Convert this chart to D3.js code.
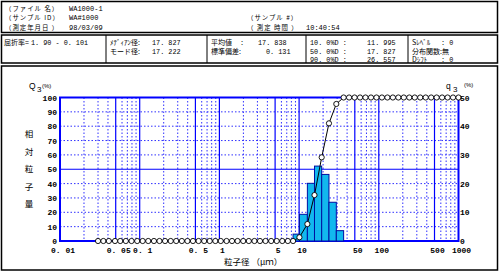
<!DOCTYPE html>
<html>
<head>
<meta charset="utf-8">
<script src="https://cdn.jsdelivr.net/npm/d3@7"></script>
<style>
body { margin: 0; background: #fff; }
text { fill: #000; }
.jp { font-family: "Noto Sans CJK JP", sans-serif; }
.num { font-family: "Liberation Mono", monospace; }
.tick text { font-family: "Liberation Mono", monospace; font-weight: bold; font-size: 8px; }
</style>
</head>
<body>
<div id="chart"></div>
<script>
// channel sizes (um) where the cumulative points sit
var sizeUm = [0.030, 0.035, 0.041, 0.049, 0.057, 0.067, 0.079, 0.093, 0.109, 0.128,
  0.151, 0.177, 0.208, 0.245, 0.287, 0.338, 0.397, 0.466, 0.548, 0.644,
  0.756, 0.889, 1.04, 1.23, 1.44, 1.69, 1.99, 2.34, 2.75, 3.23,
  3.79, 4.46, 5.24, 6.15, 7.23, 8.40, 10.1, 12.7, 15.6, 19.2,
  23.7, 29.3, 36.2, 42.4, 49.7, 58.2, 68.1, 79.8, 93.5, 109.5,
  128.2, 150.2, 175.9, 206.0, 241.3, 282.6, 331.0, 387.6, 454.0, 531.7,
  622.7, 729.4, 854.2, 1000];
// cumulative Q3 (%)
var cumQ3 = [0, 0, 0, 0, 0, 0, 0, 0, 0, 0,
  0, 0, 0, 0, 0, 0, 0, 0, 0, 0,
  0, 0, 0, 0, 0, 0, 0, 0, 0, 0,
  0, 0, 0, 0, 0, 0, 2.6, 11.8, 32.0, 58.3,
  82.0, 95.5, 100, 100, 100, 100, 100, 100, 100, 100,
  100, 100, 100, 100, 100, 100, 100, 100, 100, 100,
  100, 100, 100, 100];
// histogram q3 (%) between binEdges
var binEdges = [8.40, 10.1, 12.7, 15.6, 19.2, 23.7, 29.3, 36.2];
var q3 = [2.4, 9.3, 20.1, 26.1, 23.2, 13.5, 3.6];

var xTicks = [0.01, 0.05, 0.1, 0.5, 1, 5, 10, 50, 100, 500, 1000];
var xTickLabels = ["0. 01", "0. 05", "0. 1", "0. 5", "1", "5", "10", "50", "100", "500", "1000"];
var majorGrid = [0.05, 0.1, 0.5, 1, 5, 10, 50, 100, 500];
var minorGrid = [0.02, 0.03, 0.04, 0.06, 0.07, 0.08, 0.09, 0.2, 0.3, 0.4, 0.6, 0.7, 0.8, 0.9,
  2, 3, 4, 6, 7, 8, 9, 20, 30, 40, 60, 70, 80, 90, 200, 300, 400, 600, 700, 800, 900];
var leftTicks = [0, 10, 20, 30, 40, 50, 60, 70, 80, 90, 100];
var rightTicks = [0, 10, 20, 30, 40, 50];

var header1 = [["（ファイル 名）", "WA1000-1"], ["（サンプル ID）", "WA#1000"], ["（測定年月日 ）", "98/03/09"]];

var W = 500, H = 273;
var svg = d3.select("#chart").append("svg").attr("width", W).attr("height", H);
svg.append("rect").attr("width", W).attr("height", H).attr("fill", "#fff");

// header boxes
svg.append("rect").attr("x", 1.5).attr("y", 1.5).attr("width", 496).attr("height", 31)
  .attr("fill", "none").attr("stroke", "#000").attr("stroke-width", 1.5);
svg.append("rect").attr("x", 1.5).attr("y", 35).attr("width", 496).attr("height", 28)
  .attr("fill", "none").attr("stroke", "#000").attr("stroke-width", 1.5);
[106, 207, 306, 408].forEach(function(d) {
  svg.append("line").attr("x1", d).attr("x2", d).attr("y1", 35).attr("y2", 63)
    .attr("stroke", "#000").attr("stroke-width", 1);
});
svg.append("rect").attr("x", 1.5).attr("y", 66).attr("width", 496).attr("height", 204)
  .attr("fill", "none").attr("stroke", "#000").attr("stroke-width", 1.5);

header1.forEach(function(r, i) {
  svg.append("text").attr("class", "jp").attr("x", 5).attr("y", 11 + i * 9.3)
    .attr("font-size", 6.4).attr("letter-spacing", 1).text(r[0]);
  svg.append("text").attr("class", "num").attr("x", 69).attr("y", 11 + i * 9.3)
    .attr("font-size", 7).text(r[1]);
});
svg.append("text").attr("class", "jp").attr("x", 247).attr("y", 20.3).attr("font-size", 6.4)
  .attr("letter-spacing", 1).text("（サンプル #）");
svg.append("text").attr("class", "jp").attr("x", 247).attr("y", 29.6).attr("font-size", 6.4)
  .attr("letter-spacing", 1).text("（ 測定 時間 ）");
svg.append("text").attr("class", "num").attr("x", 306).attr("y", 29.6).attr("font-size", 7).text("10:40:54");

var infoJp = [
  [4, 45, "屈折率="], [110, 45, "ﾒﾃﾞｨｱﾝ径:"], [110, 53.5, "モード径:"],
  [211, 45, "平均値"], [211, 53.5, "標準偏差:"],
  [412, 45, "Sﾚﾍﾞﾙ"], [412, 53.5, "分布関数:無"], [412, 62, "Dｼﾌﾄ"]
];
var infoNum = [
  [31, 45, "1. 90 - 0. 10i"], [152, 45, "17. 827"], [152, 53.5, "17. 222"],
  [240, 45, ":"], [258, 45, "17. 838"], [266, 53.5, "0. 131"],
  [310, 45, "10. 0%D :"], [367, 45, "11. 995"],
  [310, 53.5, "50. 0%D :"], [367, 53.5, "17. 827"],
  [310, 62, "90. 0%D :"], [367, 62, "26. 557"],
  [441, 45, ": 0"], [441, 62, ": 0"]
];
infoJp.forEach(function(t) {
  svg.append("text").attr("class", "jp").attr("x", t[0]).attr("y", t[1])
    .attr("font-size", 7).text(t[2]);
});
infoNum.forEach(function(t) {
  svg.append("text").attr("class", "num").attr("x", t[0]).attr("y", t[1])
    .attr("font-size", 6.8).text(t[2]);
});

// plot
var x = d3.scaleLog().domain([0.01, 1000]).range([60, 458.5]);
var yL = d3.scaleLinear().domain([0, 100]).range([241, 97.5]);
var yR = d3.scaleLinear().domain([0, 50]).range([241, 97.5]);

var grid = svg.append("g");
grid.selectAll(".vmin").data(minorGrid).enter().append("line")
  .attr("x1", d => x(d)).attr("x2", d => x(d)).attr("y1", yL(100)).attr("y2", yL(0))
  .attr("stroke", "#3030ff").attr("stroke-width", 1).attr("stroke-dasharray", "1.5,2");
grid.selectAll(".hmin").data([10, 20, 30, 40, 60, 70, 80, 90]).enter().append("line")
  .attr("x1", x(0.01)).attr("x2", x(1000)).attr("y1", d => yL(d)).attr("y2", d => yL(d))
  .attr("stroke", "#3030ff").attr("stroke-width", 1).attr("stroke-dasharray", "1.5,2");
grid.selectAll(".vmaj").data(majorGrid).enter().append("line")
  .attr("x1", d => x(d)).attr("x2", d => x(d)).attr("y1", yL(100)).attr("y2", yL(0))
  .attr("stroke", "#0000ff").attr("stroke-width", 1.2);
grid.append("line").attr("x1", x(0.01)).attr("x2", x(1000)).attr("y1", yL(50)).attr("y2", yL(50))
  .attr("stroke", "#0000ff").attr("stroke-width", 1.2);
svg.append("rect").attr("x", x(0.01)).attr("y", yL(100))
  .attr("width", x(1000) - x(0.01)).attr("height", yL(0) - yL(100))
  .attr("fill", "none").attr("stroke", "#0000ff").attr("stroke-width", 2);

// histogram bars
svg.selectAll(".bar").data(q3).enter().append("rect")
  .attr("x", (d, i) => x(binEdges[i]))
  .attr("width", (d, i) => x(binEdges[i + 1]) - x(binEdges[i]))
  .attr("y", d => yR(d)).attr("height", d => yR(0) - yR(d))
  .attr("fill", "#12b8ee").attr("stroke", "#0010a0").attr("stroke-width", 1);

// cumulative curve
var pts = sizeUm.map((d, i) => [d, cumQ3[i]]);
var line = d3.line().x(d => x(d[0])).y(d => yL(d[1]));
svg.append("path").datum(pts).attr("d", line).attr("fill", "none")
  .attr("stroke", "#000").attr("stroke-width", 1);
svg.selectAll(".pt").data(pts).enter().append("circle")
  .attr("cx", d => x(d[0])).attr("cy", d => yL(d[1])).attr("r", 2.6)
  .attr("fill", "#fff").attr("stroke", "#000").attr("stroke-width", 0.9);

// axes labels
svg.append("g").attr("transform", "translate(2.5,244)")
  .call(d3.axisBottom(x).tickValues(xTicks).tickFormat((d, i) => xTickLabels[i]).tickSize(0))
  .call(g => g.select(".domain").remove());
svg.append("g").attr("transform", "translate(57,0)")
  .call(d3.axisLeft(yL).tickValues(leftTicks).tickSize(0).tickPadding(0))
  .call(g => g.select(".domain").remove());
svg.append("g").attr("transform", "translate(460,0)")
  .call(d3.axisRight(yR).tickValues(rightTicks).tickSize(0).tickPadding(0))
  .call(g => g.select(".domain").remove());

svg.append("text").attr("x", 29).attr("y", 89).attr("font-family", "Liberation Sans")
  .attr("font-size", 8.5).text("Q");
svg.append("text").attr("x", 37).attr("y", 92).attr("font-family", "Liberation Sans")
  .attr("font-size", 8).text("3");
svg.append("text").attr("x", 42).attr("y", 88).attr("font-family", "Liberation Sans")
  .attr("font-size", 6).text("(%)");
svg.append("text").attr("x", 446).attr("y", 89).attr("font-family", "Liberation Sans")
  .attr("font-size", 8.5).text("q");
svg.append("text").attr("x", 453).attr("y", 92).attr("font-family", "Liberation Sans")
  .attr("font-size", 8).text("3");
svg.append("text").attr("x", 464).attr("y", 87).attr("font-family", "Liberation Sans")
  .attr("font-size", 6).text("(%)");

"相対粒子量".split("").forEach(function(c, i) {
  svg.append("text").attr("class", "jp").attr("x", 29).attr("y", 137 + i * 17.6)
    .attr("text-anchor", "middle").attr("font-size", 8.5).text(c);
});
svg.append("text").attr("class", "jp").attr("x", 224).attr("y", 265)
  .attr("font-size", 8.5).text("粒子径 （μｍ）");
</script>
</body>
</html>
